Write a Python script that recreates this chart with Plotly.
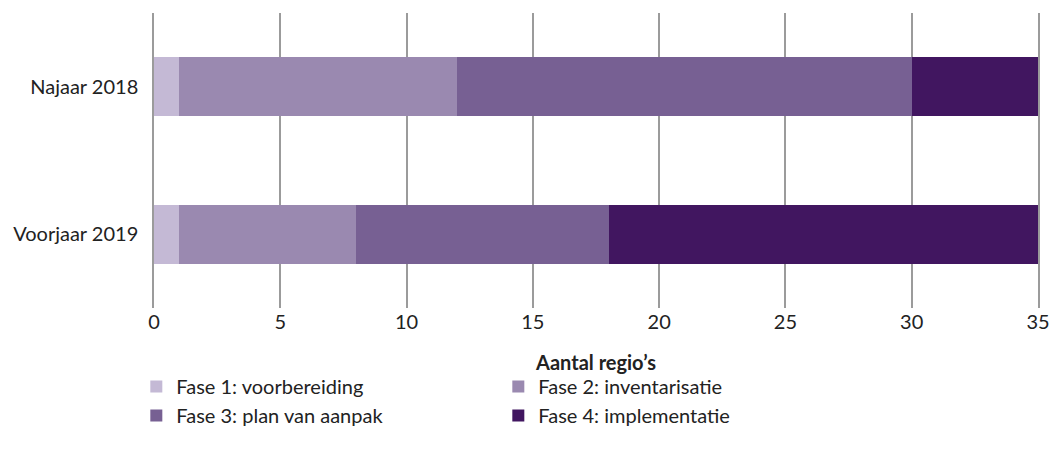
import plotly.graph_objects as go

categories = ["Najaar 2018", "Voorjaar 2019"]
series_names = ["Fase 1: voorbereiding", "Fase 2: inventarisatie", "Fase 3: plan van aanpak", "Fase 4: implementatie"]
fase1 = [1, 1]
fase2 = [11, 7]
fase3 = [18, 10]
fase4 = [5, 17]
colors = ["#c4b9d5", "#9a89b0", "#776093", "#411660"]
x_ticks = [0, 5, 10, 15, 20, 25, 30, 35]

FONT = "Lato, 'Open Sans', sans-serif"
GRID = "#9b9b9b"
fig = go.Figure()
for name, vals, col in zip(series_names, [fase1, fase2, fase3, fase4], colors):
    fig.add_trace(go.Bar(y=categories, x=vals, name=name, orientation="h",
                         marker=dict(color=col, line=dict(width=0))))

fig.update_layout(
    barmode="stack",
    bargap=0.6,
    width=1049, height=463,
    margin=dict(l=154, r=11, t=13, b=155, autoexpand=False),
    paper_bgcolor="white", plot_bgcolor="white",
    font=dict(family=FONT, size=20, color="#222222"),
    xaxis=dict(range=[0, 35], tickvals=x_ticks, showgrid=True, gridcolor=GRID, gridwidth=1.5,
               zeroline=False, showline=False, ticks="", ticklabelstandoff=0, automargin=False,
               ticklabeloverflow="allow",
               title=dict(text="<b>Aantal regio’s</b>", standoff=23, font=dict(size=20))),
    yaxis=dict(autorange="reversed", showgrid=False, zeroline=False, showline=True, mirror=True,
               linecolor=GRID, linewidth=1.5, ticks="",
               ticklabelstandoff=10, automargin=False),
    legend=dict(orientation="h", x=-0.020, xanchor="left", y=-0.2, yanchor="top",
                entrywidth=317, entrywidthmode="pixels", traceorder="normal",
                font=dict(size=20), itemwidth=30, tracegroupgap=0),
    showlegend=True,
)
fig.write_html("out.html", config={"displayModeBar": False},
               post_script="document.body.style.margin='0';document.body.style.overflow='hidden';")
